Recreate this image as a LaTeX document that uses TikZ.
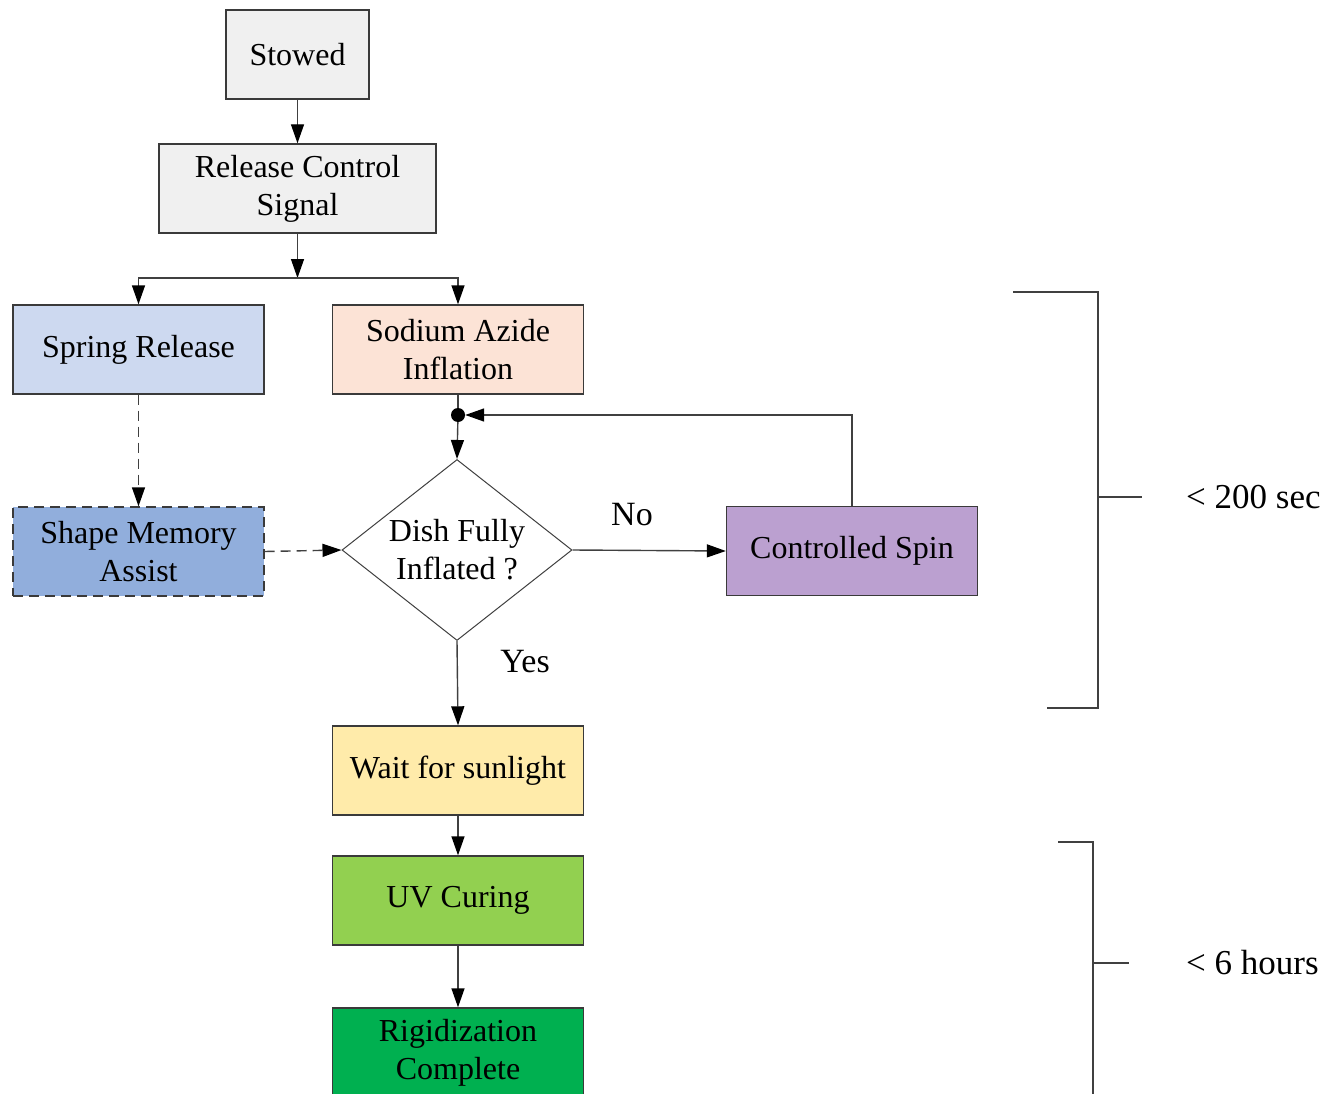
\documentclass[tikz,border=0pt]{standalone}
\usepackage{fontspec}
\setmainfont{Liberation Serif}
\usetikzlibrary{arrows.meta,shapes.geometric}
\definecolor{boxline}{HTML}{3A3A3A}
\definecolor{lineclr}{HTML}{404040}
\definecolor{grayfill}{HTML}{F0F0F0}
\definecolor{springfill}{HTML}{CDD9F0}
\definecolor{sodiumfill}{HTML}{FCE3D6}
\definecolor{shapefill}{HTML}{91AEDC}
\definecolor{spinfill}{HTML}{BBA0D0}
\definecolor{waitfill}{HTML}{FFEBAA}
\definecolor{uvfill}{HTML}{92D050}
\definecolor{rigfill}{HTML}{00B050}
\begin{document}
\begin{tikzpicture}[x=1pt,y=-1pt,
  box/.style={draw=boxline, line width=1.4pt, minimum width=251pt, minimum height=89pt,
    align=center, inner sep=0pt, font=\fontsize{32}{38}\selectfont},
  conn/.style={draw=lineclr, line width=1.4pt, -{Triangle[length=19pt,width=13pt,color=black]}},
  plain/.style={draw=lineclr, line width=1.4pt},
  dashpat/.style={dash pattern=on 10pt off 6pt},
  lbl/.style={font=\fontsize{34}{40}\selectfont, inner sep=0pt},
  brk/.style={draw=lineclr, line width=1.4pt}
]
\clip (0,0) rectangle (1336,1094);
\fill[white] (0,0) rectangle (1336,1094);

\node[box, fill=grayfill, minimum width=143pt] (stowed) at (297.5,54.5) {Stowed};
\node[box, fill=grayfill, minimum width=277pt] (rel) at (297.5,188.5) {Release Control\\Signal};
\node[box, fill=springfill] (spring) at (138.5,349.5) {Spring Release};
\node[box, fill=sodiumfill] (sodium) at (458,349.5) {Sodium Azide\\Inflation};
\node[box, fill=shapefill, dashpat] (shape) at (138.5,551.5) {Shape Memory\\Assist};
\node[box, diamond, aspect=1.27, fill=white, line width=1pt, draw=lineclr,
      minimum width=230pt, minimum height=181pt] (dish) at (457,550) {Dish Fully\\Inflated ?};
\node[box, fill=spinfill] (spin) at (852,551) {Controlled Spin};
\node[box, fill=waitfill] (wait) at (458,770.5) {Wait for sunlight};
\node[box, fill=uvfill] (uv) at (458,900.5) {UV Curing};
\node[box, fill=rigfill] (rig) at (458,1052.5) {Rigidization\\Complete};

\node[circle, fill=black, inner sep=0pt, minimum size=14pt] (dot) at (458,415) {};
\coordinate (j) at (297.5,278);

\draw[conn] (stowed) -- (rel);
\draw[conn] (rel) -- (j);
\draw[conn] (j) -| (spring.north);
\draw[conn] (j) -| (sodium.north);
\draw[plain] (sodium.south) -- (dot);
\draw[conn] (dot) -- (dish.north);
\draw[conn] (spin.north) |- (dot.east);
\draw[conn, dashpat] (spring.south) -- (shape.north);
\draw[conn, dashpat] (shape.east) -- (dish.west);
\draw[conn] (dish.east) -- (spin.west);
\draw[conn] (dish.south) -- (wait.north);
\draw[conn] (wait) -- (uv);
\draw[conn] (uv) -- (rig);

\node[lbl] (no) at (632,515) {No};
\node[lbl] (yes) at (525,662) {Yes};

% brackets
\draw[brk] (1013,292) -- (1098,292) -- (1098,708) -- (1047,708);
\draw[brk] (1098,497) -- (1142,497);
\node[lbl, anchor=west, font=\fontsize{35}{40}\selectfont] (t200) at (1186,497) {< 200 sec};
\draw[brk] (1058,842) -- (1093,842) -- (1093,1110);
\draw[brk] (1093,963) -- (1129,963);
\node[lbl, anchor=west, font=\fontsize{35}{40}\selectfont] (t6) at (1186,963) {< 6 hours};
\end{tikzpicture}
\end{document}
